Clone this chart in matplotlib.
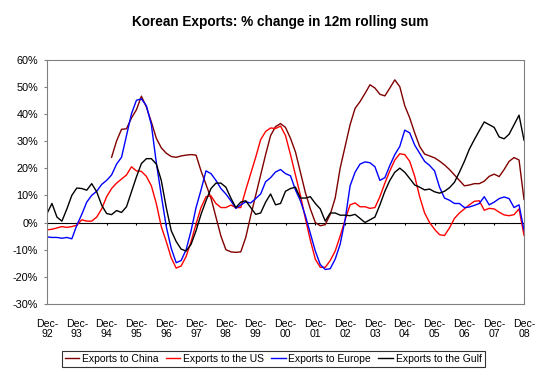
import numpy as np
import matplotlib
matplotlib.use('Agg')
import matplotlib.pyplot as plt

# monthly index from Dec-92, one reading every two months
months = np.arange(0, 193, 2)
year_labels = ['92', '93', '94', '95', '96', '97', '98', '99', '00',
               '01', '02', '03', '04', '05', '06', '07', '08']

nan = np.nan
china = [nan] * 13 + [
    24.0, 30.0, 34.3, 34.5, 38.5, 41.5, 46.5, 42.5, 37.0, 31.0, 27.5, 25.5,
    24.3, 24.0, 24.5, 24.8, 25.0, 24.8, 19.0, 14.0, 9.0, 2.0, -5.0, -10.0,
    -10.8, -11.0, -10.8, -5.5, 2.5, 10.0, 17.5, 25.0, 32.0, 35.3, 36.4, 35.0,
    31.0, 26.0, 18.5, 11.0, 5.0, 0.0, -1.2, -0.8, 3.0, 9.0, 20.0, 28.0,
    36.0, 42.0, 44.5, 47.5, 50.7, 49.5, 47.2, 46.6, 49.5, 52.5, 50.0, 43.0,
    38.5, 33.0, 28.0, 25.2, 24.5, 23.8, 22.6, 21.2, 19.5, 17.5, 15.5, 13.5,
    13.8, 14.3, 14.3, 15.2, 17.0, 17.8, 16.9, 19.5, 22.5, 23.9, 23.0, 8.5]

us = [
    -2.7, -2.5, -2.0, -1.5, -1.8, -1.5, -1.0, 1.0, 0.5, 0.5, 2.0, 5.0, 9.5,
    12.5, 14.5, 16.0, 17.5, 20.5, 19.0, 18.8, 17.0, 13.5, 7.0, -1.5, -7.0,
    -13.0, -16.8, -16.0, -12.5, -7.0, -0.5, 5.5, 9.5, 9.8, 7.0, 5.5, 5.5,
    6.4, 5.5, 5.5, 12.0, 18.0, 24.0, 30.5, 33.5, 34.8, 34.6, 35.5, 32.0,
    25.0, 17.5, 10.0, 1.5, -6.5, -13.5, -16.5, -16.5, -14.0, -10.5, -5.0, 1.0,
    6.5, 7.2, 5.8, 5.8, 5.2, 5.5, 9.5, 14.5, 19.0, 23.0, 25.3, 25.0,
    22.5, 17.0, 9.5, 3.5, 0.0, -2.5, -4.5, -4.8, -2.0, 1.5, 3.5, 5.0,
    6.5, 7.8, 8.0, 4.5, 5.2, 5.0, 3.8, 2.8, 2.5, 2.9, 5.0, -4.7]

europe = [
    -5.3, -5.5, -5.5, -5.8, -5.5, -6.0, -1.0, 3.0, 7.5, 10.0, 11.5, 14.0, 15.5,
    17.5, 21.5, 24.0, 32.0, 40.0, 45.0, 45.5, 43.0, 36.0, 22.0, 10.0, -1.5,
    -9.5, -14.8, -14.0, -10.0, -3.0, 5.5, 12.0, 19.0, 18.0, 15.5, 12.5, 10.5,
    8.0, 5.2, 6.5, 7.6, 7.2, 8.8, 10.5, 15.0, 16.5, 18.6, 19.5, 18.0,
    17.2, 12.0, 8.0, 2.5, -4.0, -10.5, -15.5, -17.3, -17.0, -13.5, -8.0, 1.0,
    13.5, 18.5, 21.5, 22.3, 22.0, 20.5, 15.5, 16.5, 21.0, 25.0, 28.0, 34.0,
    33.0, 28.5, 25.5, 22.5, 21.0, 19.0, 13.0, 9.0, 8.2, 7.0, 7.0, 5.5,
    5.7, 6.3, 7.0, 9.5, 6.5, 7.5, 8.8, 9.4, 8.8, 5.5, 6.5, -2.8]

gulf = [
    3.3, 7.0, 2.0, 0.5, 5.0, 10.0, 12.7, 12.5, 11.9, 14.3, 11.3, 6.4, 3.3,
    2.9, 4.4, 3.7, 5.8, 11.3, 16.8, 21.7, 23.5, 23.5, 21.5, 15.5, 5.5,
    -3.0, -7.0, -9.8, -10.5, -8.0, -3.0, 3.0, 8.0, 12.5, 14.5, 14.5, 13.0,
    9.0, 5.5, 7.5, 8.0, 5.5, 3.0, 3.5, 7.5, 10.5, 6.5, 7.0, 11.5,
    12.5, 13.0, 9.0, 9.0, 9.5, 7.0, 5.0, 0.5, 3.5, 3.5, 2.7, 2.7,
    2.5, 3.0, 1.5, 0.0, 1.0, 2.0, 6.5, 11.5, 15.5, 18.5, 20.0, 18.5,
    16.2, 13.8, 13.0, 12.0, 12.3, 11.3, 10.8, 11.5, 12.8, 14.8, 18.5, 22.5,
    27.0, 30.5, 33.8, 37.0, 36.0, 35.0, 31.5, 30.8, 32.5, 36.0, 39.5, 30.3]

plt.rcParams['font.family'] = ['Liberation Sans', 'DejaVu Sans']

fig = plt.figure(figsize=(5.47, 3.74), dpi=100)
ax = fig.add_axes([47 / 547, 1 - 304 / 374, 477 / 547, 244.5 / 374])

ax.plot(months, china, color='#800000', lw=1.0, label='Exports to China')
ax.plot(months, us, color='#ff0000', lw=1.0, label='Exports to the US')
ax.plot(months, europe, color='#0000ff', lw=1.0, label='Exports to Europe')
ax.plot(months, gulf, color='#000000', lw=1.0, label='Exports to the Gulf')

# zero line with year ticks hanging off it
year_ticks = np.arange(0, 193, 12)
ax.axhline(0, color='black', lw=0.8, zorder=1)
ax.vlines(year_ticks, -1.1, 0, color='black', lw=0.8, zorder=1)

ax.set_xlim(0, 192)
ax.set_ylim(-30, 60)
ax.set_yticks(np.arange(-30, 61, 10))
ax.set_yticklabels(['%d%%' % v for v in range(-30, 61, 10)])
ax.set_xticks(year_ticks)
ax.set_xticklabels(['Dec-\n' + y for y in year_labels], linespacing=1.1)
ax.tick_params(axis='x', length=0, pad=10.5, labelsize=7.6)
ax.tick_params(axis='y', length=2.5, pad=4, labelsize=7.8, color='#808080')
for s in ax.spines.values():
    s.set_color('#808080')
    s.set_linewidth(0.8)

fig.text(0.512, 1 - 22 / 374, 'Korean Exports: % change in 12m rolling sum',
         ha='center', va='center', fontsize=9.8, fontweight='bold')

leg = fig.legend(loc='upper center', bbox_to_anchor=(273 / 547, 1 - 351 / 374),
                 ncol=4, fontsize=7.5, frameon=True, fancybox=False,
                 handlelength=1.4, handletextpad=0.25, columnspacing=0.7,
                 borderpad=0.3, borderaxespad=0)
leg.get_frame().set_edgecolor('black')
leg.get_frame().set_linewidth(0.8)

fig.savefig('out.png', dpi=100)
